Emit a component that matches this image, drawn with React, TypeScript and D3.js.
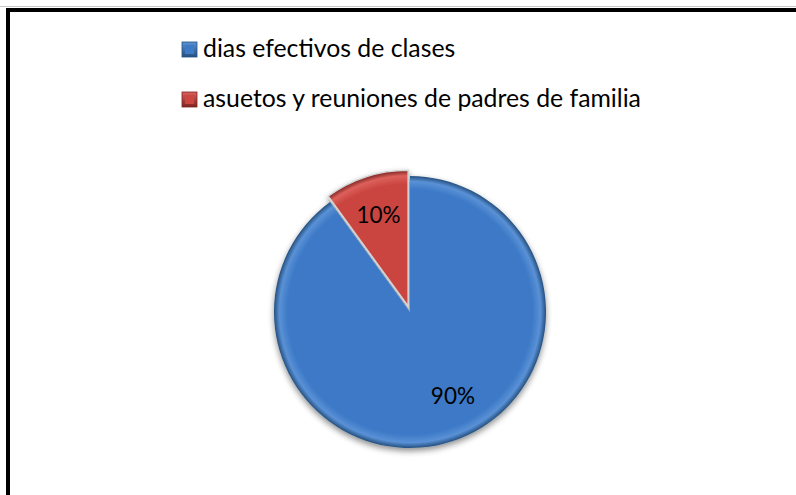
import React from "react";
import * as d3 from "d3";

const categories = ["dias efectivos de clases", "asuetos y reuniones de padres de familia"];
const values = [90, 10];
const labels = ["90%", "10%"];
const colors = ["#3c79c6", "#cb4541"];
const darkColors = ["#24507f", "#7d2422"];
const lightColors = ["#5a91d6", "#dc605b"];

export default function App() {
  const W = 796, H = 495;
  const cx = 410, cy = 312, r = 136;
  const explode = 6;
  const pie = d3.pie<number>().sort(null).startAngle(0).endAngle(2 * Math.PI);
  const arcs = pie(values);
  const arc = d3.arc<d3.PieArcDatum<number>>().innerRadius(0).outerRadius(r);
  return (
    <svg width={W} height={H} style={{ position: "absolute", left: 0, top: 0, display: "block", fontFamily: "Lato, 'Open Sans', sans-serif" }}>
      <defs>
        {colors.map((c, i) => (
          <radialGradient key={i} id={`g${i}`} cx={0} cy={0} r={r} gradientUnits="userSpaceOnUse">
            <stop offset="0%" stopColor={c} />
            <stop offset="90%" stopColor={c} />
            <stop offset="96%" stopColor={lightColors[i]} />
            <stop offset="100%" stopColor={darkColors[i]} />
          </radialGradient>
        ))}
        {colors.map((c, i) => (
          <linearGradient key={i} id={`lg${i}`} x1="0" y1="0" x2="0" y2="1">
            <stop offset="0%" stopColor={lightColors[i]} />
            <stop offset="100%" stopColor={darkColors[i]} />
          </linearGradient>
        ))}
        <filter id="shadow" x="-20%" y="-20%" width="140%" height="140%">
          <feGaussianBlur in="SourceAlpha" stdDeviation="3" />
          <feOffset dx="0" dy="3" result="b" />
          <feComponentTransfer><feFuncA type="linear" slope="0.45" /></feComponentTransfer>
          <feMerge><feMergeNode /><feMergeNode in="SourceGraphic" /></feMerge>
        </filter>
      </defs>
      <rect x={0} y={0} width={W} height={H} fill="#fff" />
      <line x1={0} y1={6.5} x2={W} y2={6.5} stroke="#c8c8c8" strokeWidth={1} />
      <line x1={6} y1={10} x2={W} y2={10} stroke="#000" strokeWidth={4} />
      <line x1={8} y1={8} x2={8} y2={H} stroke="#000" strokeWidth={4} />
      {categories.map((c, i) => (
        <g key={c} transform={`translate(182, ${42 + i * 50})`}>
          <rect x={0} y={0} width={15} height={15} fill={`url(#lg${i})`} stroke={darkColors[i]} strokeWidth={0.8} />
          <rect x={3} y={3} width={9} height={9} fill={colors[i]} />
          <text x={21} y={15} fontSize={24.8} fill="#000">{c}</text>
        </g>
      ))}
      <g transform={`translate(${cx},${cy})`} filter="url(#shadow)">
        {arcs.map((a, i) => {
          const mid = (a.startAngle + a.endAngle) / 2;
          const off = i === 1 ? explode : 0;
          const dx = Math.sin(mid) * off, dy = -Math.cos(mid) * off;
          return (
            <g key={i} transform={`translate(${dx},${dy})`}>
              <path d={arc(a) || ""} fill={`url(#g${i})`} stroke={i === 1 ? "#d4d4d4" : "none"} strokeWidth={i === 1 ? 1.5 : 0} />
            </g>
          );
        })}
      </g>
      <g transform={`translate(${cx},${cy})`}>
        {arcs.map((a, i) => {
          const mid = (a.startAngle + a.endAngle) / 2;
          const off = i === 1 ? explode : 0;
          const lr = i === 1 ? 96 : 94;
          const ang = i === 1 ? mid : mid - 0.16;
          const x = Math.sin(ang) * (lr + off);
          const y = -Math.cos(ang) * (lr + off);
          return (
            <text key={i} x={x} y={y} dy="0.35em" textAnchor="middle" fontSize={22.5} fill="#000">{labels[i]}</text>
          );
        })}
      </g>
    </svg>
  );
}
